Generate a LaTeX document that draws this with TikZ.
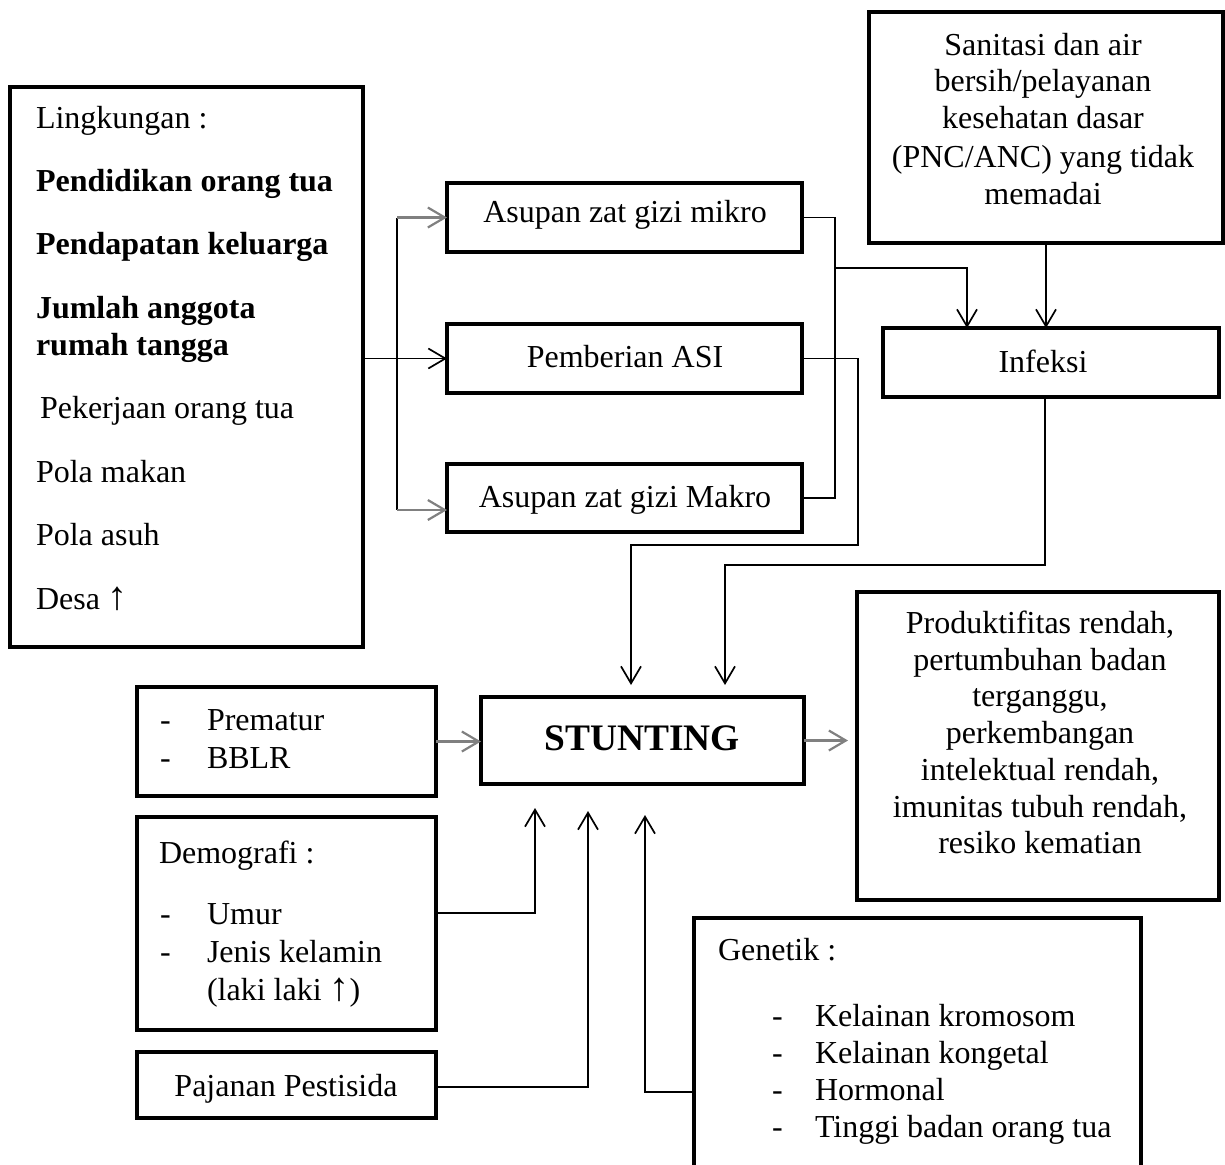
\documentclass[tikz,border=0pt]{standalone}
\usepackage{fontspec}
\setmainfont{Liberation Serif}
\usetikzlibrary{arrows.meta,calc}
\newcommand{\uparr}{\scalebox{1.25}{↑}}
\begin{document}
\begin{tikzpicture}[x=0.5pt,y=-0.5pt,
 box/.style={draw,line width=2pt,inner sep=0pt,outer sep=0pt},
 txt/.style={inner sep=0pt,outer sep=0pt,font=\fontsize{16}{19}\selectfont},
 btxt/.style={inner sep=0pt,outer sep=0pt,font=\fontsize{16}{19}\selectfont\bfseries},
 conn/.style={line width=0.85pt},
 arr/.style={conn,-{Straight Barb[length=8.5pt,width=10pt,line width=0.85pt]}},
 garr/.style={line width=1.1pt,draw=black!50,-{Straight Barb[length=8.5pt,width=10pt,line width=1.1pt]}}]
\useasboundingbox (0,0) rectangle (1225,1164);
\clip (0,0) rectangle (1225,1164);
% boxes
\node[box,minimum width=176.5pt,minimum height=280pt] (ling) at (186.5,367) {};
\node[box,minimum width=177.5pt,minimum height=34.5pt] (mikro) at (624.5,217.5) {};
\node[box,minimum width=177.5pt,minimum height=34.5pt] (asi) at (624.5,358.5) {};
\node[box,minimum width=177.5pt,minimum height=34pt] (makro) at (624.5,498) {};
\node[box,minimum width=177pt,minimum height=115.5pt] (sanit) at (1046,127.5) {};
\node[box,minimum width=168pt,minimum height=34.5pt] (infeksi) at (1051,362.5) {};
\node[box,minimum width=161.5pt,minimum height=43.5pt] (stunt) at (642.5,740.5) {};
\node[box,minimum width=181pt,minimum height=154pt] (outc) at (1038,746) {};
\node[box,minimum width=149.5pt,minimum height=54.5pt] (prem) at (286.5,741.5) {};
\node[box,minimum width=149.5pt,minimum height=106.5pt] (demo) at (286.5,923.5) {};
\node[box,minimum width=149.5pt,minimum height=33pt] (paj) at (286.5,1085) {};
\node[box,minimum width=223.5pt,minimum height=166pt] (gen) at (917.5,1084) {};
% Lingkungan texts
\node[txt,anchor=base west] (l1) at (36,128) {Lingkungan :};
\node[btxt,anchor=base west] (l2) at (36,191) {Pendidikan orang tua};
\node[btxt,anchor=base west] (l3) at (36,254) {Pendapatan keluarga};
\node[btxt,anchor=base west] (l4) at (36,318) {Jumlah anggota};
\node[btxt,anchor=base west] (l5) at (36,355) {rumah tangga};
\node[txt,anchor=base west] (l6) at (40,418) {Pekerjaan orang tua};
\node[txt,anchor=base west] (l7) at (36,482) {Pola makan};
\node[txt,anchor=base west] (l8) at (36,545) {Pola asuh};
\node[txt,anchor=base west] (l9) at (36,609) {Desa \uparr};
% middle texts
\node[txt,anchor=base] (tm) at (625,222) {Asupan zat gizi mikro};
\node[txt,anchor=base] (ta) at (625,367) {Pemberian ASI};
\node[txt,anchor=base] (tk) at (625,507) {Asupan zat gizi Makro};
% sanitasi
\node[txt,anchor=base] (s1) at (1043,55) {Sanitasi dan air};
\node[txt,anchor=base] (s2) at (1043,91) {bersih/pelayanan};
\node[txt,anchor=base] (s3) at (1043,128) {kesehatan dasar};
\node[txt,anchor=base] (s4) at (1043,167) {(PNC/ANC) yang tidak};
\node[txt,anchor=base] (s5) at (1043,204) {memadai};
\node[txt,anchor=base] (ti) at (1043,372) {Infeksi};
% stunting
\node[inner sep=0pt,anchor=base,font=\fontsize{18.7}{22}\selectfont\bfseries] (ts) at (642,750) {STUNTING};
% outcome
\node[txt,anchor=base] (o1) at (1040,633) {Produktifitas rendah,};
\node[txt,anchor=base] (o2) at (1040,670) {pertumbuhan badan};
\node[txt,anchor=base] (o3) at (1040,706) {terganggu,};
\node[txt,anchor=base] (o4) at (1040,743) {perkembangan};
\node[txt,anchor=base] (o5) at (1040,780) {intelektual rendah,};
\node[txt,anchor=base] (o6) at (1040,817) {imunitas tubuh rendah,};
\node[txt,anchor=base] (o7) at (1040,853) {resiko kematian};
% prematur
\node[txt,anchor=base west] (p0) at (160,730) {-};
\node[txt,anchor=base west] (p1) at (207,730) {Prematur};
\node[txt,anchor=base west] (p2) at (160,768) {-};
\node[txt,anchor=base west] (p3) at (207,768) {BBLR};
% demografi
\node[txt,anchor=base west] (d0) at (159,863) {Demografi :};
\node[txt,anchor=base west] (d1) at (160,924) {-};
\node[txt,anchor=base west] (d2) at (207,924) {Umur};
\node[txt,anchor=base west] (d3) at (160,962) {-};
\node[txt,anchor=base west] (d4) at (207,962) {Jenis kelamin};
\node[txt,anchor=base west] (d5) at (207,1000) {(laki laki \uparr)};
% pajanan
\node[txt,anchor=base] (tp) at (286,1096) {Pajanan Pestisida};
% genetik
\node[txt,anchor=base west] (g0) at (718,960) {Genetik :};
\node[txt,anchor=base west] (g1) at (772,1026) {-};
\node[txt,anchor=base west] (g2) at (815,1026) {Kelainan kromosom};
\node[txt,anchor=base west] (g3) at (772,1063) {-};
\node[txt,anchor=base west] (g4) at (815,1063) {Kelainan kongetal};
\node[txt,anchor=base west] (g5) at (772,1100) {-};
\node[txt,anchor=base west] (g6) at (815,1100) {Hormonal};
\node[txt,anchor=base west] (g7) at (772,1137) {-};
\node[txt,anchor=base west] (g8) at (815,1137) {Tinggi badan orang tua};
% connectors
\coordinate (vtop) at (397,217.5);
\coordinate (vbot) at (397,510);
\draw[conn] (vtop) -- (vbot);
\draw[arr] (asi.west -| ling.east) -- (asi.west);
\draw[garr] (vtop) -- (mikro.west);
\draw[garr] (vbot) -- (makro.west |- vbot);
\coordinate (br) at (835,268);
\draw[conn] (mikro.east) -| (br) |- (makro.east);
\draw[arr] (br) -| ($(infeksi.north west)+(84,0)$);
\draw[arr] (sanit.south) -- (sanit.south |- infeksi.north);
\draw[arr] (asi.east) -- ++(56,0) |- (631,545) -- ($(stunt.north west)+(150,-12)$);
\draw[arr] ($(infeksi.south)+(-6,0)$) |- (725,565) -- ($(stunt.north west)+(244,-12)$);
\draw[garr] (prem.east) -- (stunt.west |- prem.east);
\draw[garr,shorten >=4.5pt] (stunt.east) -- (outc.west |- stunt.east);
\draw[arr] ($(demo.east)+(0,-10.5)$) -| ($(stunt.south west)+(54,24)$);
\draw[arr] ($(paj.east)+(0,2)$) -| ($(stunt.south west)+(107,27)$);
\draw[arr] ($(gen.west)+(0,8)$) -| ($(stunt.south west)+(164,31)$);
\end{tikzpicture}
\end{document}
